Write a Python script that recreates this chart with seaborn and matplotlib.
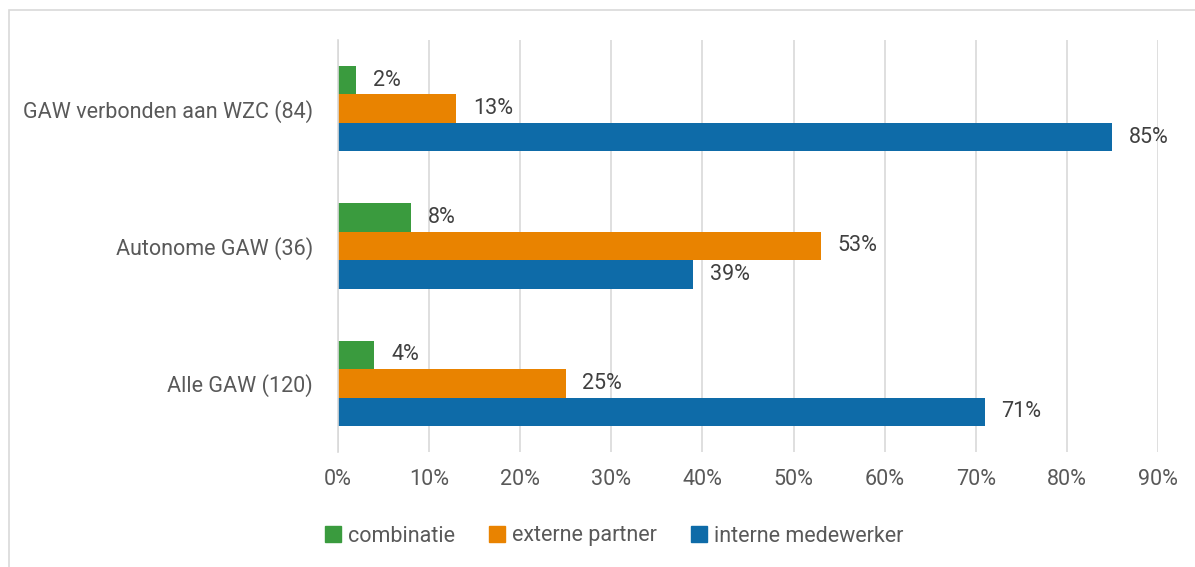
import matplotlib
matplotlib.use("Agg")
import matplotlib.pyplot as plt
import matplotlib.patches as mpatches
import pandas as pd
import seaborn as sns

# Chart data
categories = ["GAW verbonden aan WZC (84)", "Autonome GAW (36)", "Alle GAW (120)"]
series = ["combinatie", "externe partner", "interne medewerker"]
combinatie = [2, 8, 4]
externe_partner = [13, 53, 25]
interne_medewerker = [85, 39, 71]
x_ticks = [0, 10, 20, 30, 40, 50, 60, 70, 80, 90]

colors = ["#3A9B3E", "#E98300", "#0E6BA8"]
text_color = "#595959"
label_color = "#404040"
fs = 15.5

# Long-form table for seaborn
rows = []
for name, values in zip(series, [combinatie, externe_partner, interne_medewerker]):
    for cat, v in zip(categories, values):
        rows.append({"categorie": cat, "type": name, "pct": v})
df = pd.DataFrame(rows)

sns.set_style("white")
plt.rcParams["font.family"] = ["Roboto", "DejaVu Sans"]

fig = plt.figure(figsize=(11.95, 5.67), dpi=100)
ax = fig.add_axes([338 / 1195, 1 - 452 / 567, 820 / 1195, 412 / 567])

sns.barplot(data=df, y="categorie", x="pct", hue="type", order=categories,
            hue_order=series, palette=colors, orient="h", width=0.62, gap=0,
            saturation=1, edgecolor="none", linewidth=0, ax=ax)

ax.set_xlim(0, 90)
ax.set_xticks(x_ticks)
ax.set_xticklabels([f"{t}%" for t in x_ticks])
ax.set_xlabel("")
ax.set_ylabel("")
ax.grid(axis="x", color="#D9D9D9", linewidth=1.2)
ax.set_axisbelow(True)
for side in ["top", "right", "bottom"]:
    ax.spines[side].set_visible(False)
ax.spines["left"].set_color("#D9D9D9")
ax.spines["left"].set_linewidth(1.2)
ax.tick_params(axis="x", length=0, pad=12, labelsize=fs, labelcolor=text_color)
ax.tick_params(axis="y", length=0, pad=18, labelsize=fs, labelcolor=text_color)

# Data labels
for container in ax.containers:
    ax.bar_label(container, labels=[f"{int(v)}%" for v in container.datavalues],
                 padding=12, fontsize=fs, color=label_color)

# Legend
handles = [mpatches.Patch(color=c, label=s) for c, s in zip(colors, series)]
ax.get_legend().remove()
fig.legend(handles=handles, loc="center", bbox_to_anchor=(614 / 1195, 1 - 536 / 567),
           ncol=3, frameon=False, fontsize=fs, labelcolor=text_color,
           handlelength=0.75, handleheight=0.75, handletextpad=0.3, columnspacing=1.6)

# Chart border
fig.patches.append(mpatches.Rectangle((9 / 1195, -0.01), 1.02, 1 - 10 / 567 + 0.01,
                                      transform=fig.transFigure, fill=False,
                                      edgecolor="#D9D9D9", linewidth=1.2))

fig.savefig("out.png", dpi=100)
